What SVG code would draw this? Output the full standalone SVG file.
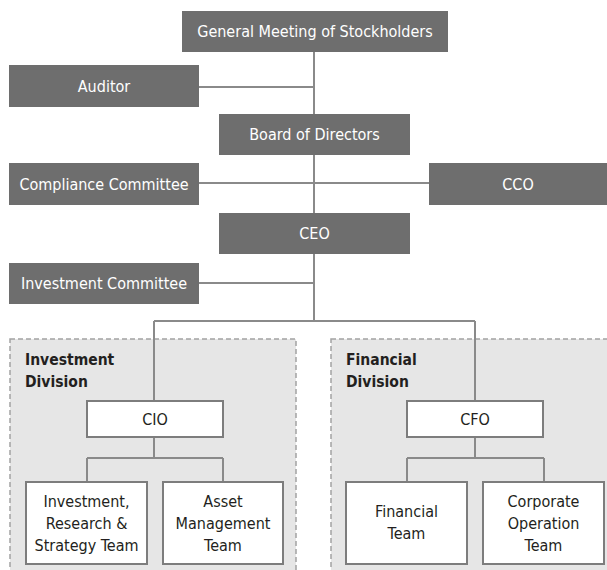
<svg xmlns="http://www.w3.org/2000/svg" width="607" height="570" viewBox="0 0 607 570">
<style>
.dark{fill:#6e6e6e}
.light{fill:#ffffff;stroke:#7d7d7d;stroke-width:2}
.div{fill:#e6e6e6;stroke:#a3a3a3;stroke-width:1.5;stroke-dasharray:5 3}
.t{font-family:"DejaVu Sans Condensed","DejaVu Sans",sans-serif;font-size:16px;text-anchor:middle}
.w{fill:#ffffff}
.k{fill:#231f20}
.b{font-family:"DejaVu Sans Condensed","DejaVu Sans",sans-serif;font-size:15.5px;font-weight:bold;fill:#231f20}
.c{fill:none;stroke:#8a8a8a;stroke-width:2}
</style>
<rect width="607" height="570" fill="#ffffff"/>
<g id="investment-division"><rect class="div" x="10" y="339" width="286" height="240"/><text class="b" x="25" y="365">Investment</text><text class="b" x="25" y="387">Division</text></g>
<g id="financial-division"><rect class="div" x="331" y="339" width="286" height="240"/><text class="b" x="346" y="365">Financial</text><text class="b" x="346" y="387">Division</text></g>
<g id="connectors">
<path class="c" d="M314 52V321M199 87H314M199 183H429M199 283H314M154 321H475M154 321V401M475 321V401"/>
<path class="c" d="M154 437V458M87 458H223M87 458V482M223 458V482"/>
<path class="c" d="M475 437V458M407 458H544M407 458V482M544 458V482"/>
</g>
<g id="general-meeting"><rect class="dark" x="182" y="11" width="266" height="41"/><text class="t w" x="315" y="37">General Meeting of Stockholders</text></g>
<g id="auditor"><rect class="dark" x="9" y="65" width="190" height="42"/><text class="t w" x="104" y="92">Auditor</text></g>
<g id="board"><rect class="dark" x="219" y="114" width="191" height="41"/><text class="t w" x="314.5" y="140">Board of Directors</text></g>
<g id="compliance"><rect class="dark" x="9" y="163" width="190" height="42"/><text class="t w" x="104" y="190">Compliance Committee</text></g>
<g id="cco"><rect class="dark" x="429" y="163" width="178" height="42"/><text class="t w" x="518" y="190">CCO</text></g>
<g id="ceo"><rect class="dark" x="219" y="213" width="191" height="41"/><text class="t w" x="314.5" y="239">CEO</text></g>
<g id="investment-committee"><rect class="dark" x="9" y="263" width="190" height="41"/><text class="t w" x="104" y="289">Investment Committee</text></g>
<g id="cio"><rect class="light" x="87" y="401" width="136" height="36"/><text class="t k" x="155" y="425">CIO</text></g>
<g id="cfo"><rect class="light" x="407" y="401" width="136" height="36"/><text class="t k" x="475" y="425">CFO</text></g>
<g id="irs-team"><rect class="light" x="26" y="482" width="121" height="82"/><text class="t k" x="86.5" y="507">Investment,</text><text class="t k" x="86.5" y="529">Research &amp;</text><text class="t k" x="86.5" y="551">Strategy Team</text></g>
<g id="asset-team"><rect class="light" x="163" y="482" width="120" height="82"/><text class="t k" x="223" y="507">Asset</text><text class="t k" x="223" y="529">Management</text><text class="t k" x="223" y="551">Team</text></g>
<g id="financial-team"><rect class="light" x="346" y="482" width="121" height="82"/><text class="t k" x="406.5" y="517">Financial</text><text class="t k" x="406.5" y="539">Team</text></g>
<g id="corporate-team"><rect class="light" x="483" y="482" width="121" height="82"/><text class="t k" x="543.5" y="507">Corporate</text><text class="t k" x="543.5" y="529">Operation</text><text class="t k" x="543.5" y="551">Team</text></g>
</svg>
